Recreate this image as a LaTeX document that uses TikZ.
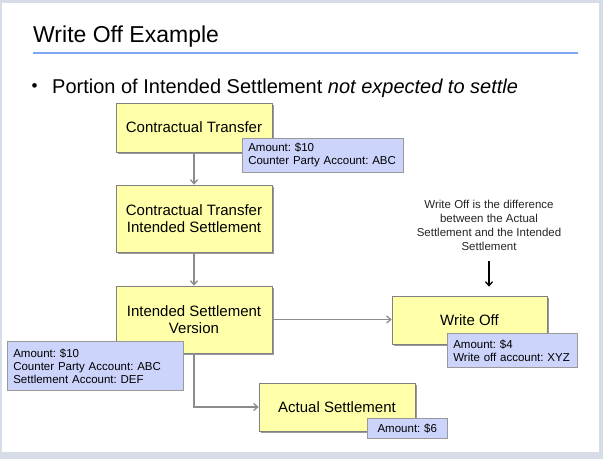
\documentclass[tikz,border=0pt]{standalone}
\usepackage{fontspec}
\setmainfont{Liberation Sans}
\usetikzlibrary{arrows.meta,shadows}
\definecolor{slidebg}{RGB}{214,221,230}
\definecolor{boxyellow}{RGB}{255,255,170}
\definecolor{notelav}{RGB}{204,212,252}
\definecolor{rulebl}{RGB}{125,167,245}
\definecolor{linegray}{RGB}{140,140,140}
\frenchspacing
\begin{document}
\begin{tikzpicture}[x=1pt, y=-1pt,
        stepbox/.style={draw=gray, fill=boxyellow, line width=0.7pt, align=center,
                        font=\fontsize{15}{17}\selectfont, minimum width=156pt, inner sep=2pt,
                        drop shadow={shadow xshift=1.5pt, shadow yshift=-1.5pt,
                                     fill=black!40, opacity=1}},
        note/.style={draw=gray!80, fill=notelav, line width=0.6pt, align=left,
                     inner xsep=6pt, inner ysep=2pt, anchor=north west,
                     font=\fontsize{11.5}{13}\selectfont},
        flow/.style={draw=linegray, line width=1.3pt,
                     -{Straight Barb[length=4pt, width=7pt]}},
    ]
    % slide
    \useasboundingbox (0,0) rectangle (603,459);
    \fill[slidebg] (0,0) rectangle (603,459);
    \fill[white] (2,3) rectangle (599,452);
    % title
    \node[anchor=base west, inner sep=0pt, font=\fontsize{23}{27}\selectfont] (title) at (33,42) {Write Off Example};
    \draw[rulebl, line width=2pt] (33,52.7) -- (578,52.7);
    \node[inner sep=0pt, font=\fontsize{17}{20}\selectfont] (dot) at (34.5,88) {•};
    \node[anchor=base west, inner sep=0pt, font=\fontsize{20}{24}\selectfont] (point) at (52,93)
        {Portion of Intended Settlement \textit{not expected to settle}};
    % steps
    \node[stepbox, minimum height=49pt] (CT)   at (194,127.5) {Contractual Transfer};
    \node[stepbox, minimum height=67pt] (CTIS) at (194,218.5) {Contractual Transfer\\ Intended Settlement};
    \node[stepbox, minimum height=67pt] (ISV)  at (194,319.5) {Intended Settlement\\ Version};
    \node[stepbox, minimum width=155pt, minimum height=48pt] (WO) at (469.5,320) {Write Off};
    \node[stepbox, minimum height=48pt] (AS)   at (337,407) {Actual Settlement};
    % connectors
    \draw[flow] (CT) -- (CTIS);
    \draw[flow] (CTIS) -- (ISV);
    \draw[flow] (ISV.east) -- (ISV.east -| WO.west);
    \draw[flow] (ISV.south) |- (AS.west);
    % amounts
    \node[note, text width=149pt, minimum height=34pt] (nCT)  at (242,138) {Amount: \$10\\ Counter Party Account: ABC};
    \node[note, text width=164pt, minimum height=49pt] (nISV) at (7,341) {Amount: \$10\\ Counter Party Account: ABC\\ Settlement Account: DEF};
    \node[note, text width=118pt, minimum height=34pt] (nWO)  at (447,333) {Amount: \$4\\ Write off account: XYZ};
    \node[note, text width=68pt, minimum height=20pt, align=center] (nAS) at (367,418) {Amount: \$6};
    % remark
    \node[align=center, text=black!85, font=\fontsize{11.5}{14}\selectfont] (why) at (489,225)
        {Write Off is the difference\\ between the Actual\\ Settlement and the Intended\\ Settlement};
    \draw[flow, draw=black, shorten <=7pt, shorten >=9pt] (why.south) -- (why.south |- WO.north);
\end{tikzpicture}
\end{document}
